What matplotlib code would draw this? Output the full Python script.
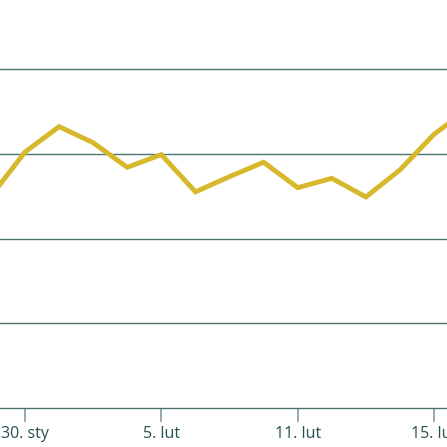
import matplotlib
matplotlib.use("Agg")
import matplotlib.pyplot as plt

# dni notowań (indeks) i wartości serii; -1 i 13 wychodzą poza kadr
dni = [-1, 0, 1, 2, 3, 4, 5, 6, 7, 8, 9, 10, 11, 12, 13]
wartosci = [2.50, 3.02, 3.32, 3.13, 2.84, 2.99, 2.55, 2.73, 2.90, 2.60,
            2.71, 2.49, 2.81, 3.23, 3.53]

pozycje_etykiet = [0, 4, 8, 12]
etykiety = ["30. sty", "5. lut", "11. lut", "15. lut"]
siatka_y = [1, 2, 3, 4]

KOLOR_LINII = "#d6b82a"
KOLOR_SIATKI = "#4a7373"
KOLOR_TEKSTU = "#24504f"

fig = plt.figure(figsize=(4.47, 4.47), dpi=100)
ax = fig.add_axes([0, 39 / 447, 1, 408 / 447])

for y in siatka_y:
    ax.axhline(y, color=KOLOR_SIATKI, lw=1.0, zorder=1)

ax.plot(dni, wartosci, color=KOLOR_LINII, lw=3.5, solid_joinstyle="miter", zorder=2)

ax.set_xlim(-0.733, 12.38)
ax.set_ylim(0, 408 / 84.75)

for s in ["top", "right", "left"]:
    ax.spines[s].set_visible(False)
ax.spines["bottom"].set_color(KOLOR_SIATKI)
ax.spines["bottom"].set_linewidth(1.0)

ax.set_yticks([])
ax.set_xticks(pozycje_etykiet)
ax.set_xticklabels(etykiety, fontsize=11.5, color=KOLOR_TEKSTU, family="Open Sans",
                   fontweight="medium")
ax.tick_params(axis="x", length=10, width=1.1, color="#7a9595", pad=3)

fig.savefig("out.png", dpi=100)
